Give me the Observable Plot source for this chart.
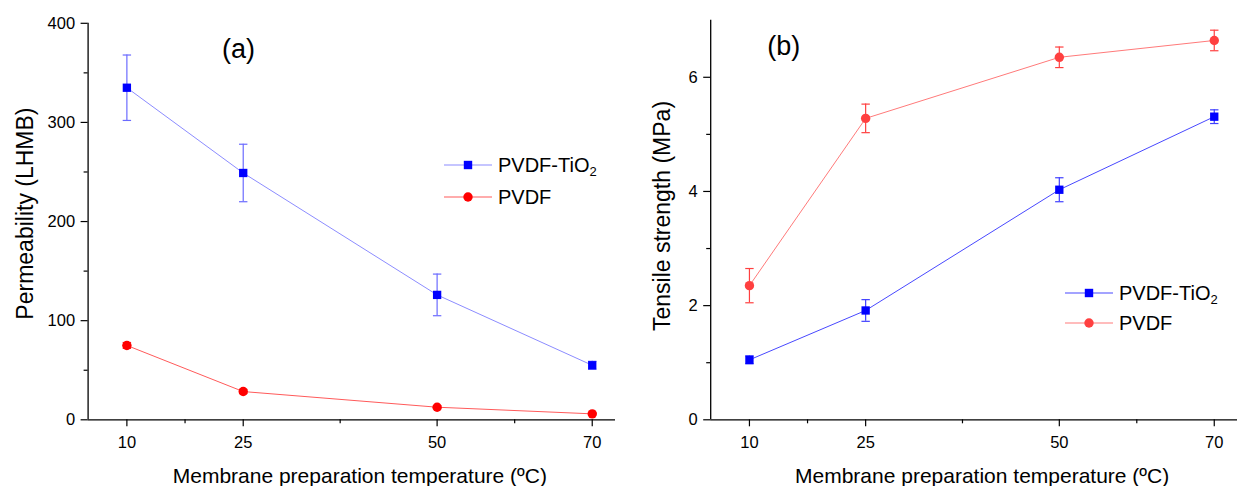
<!DOCTYPE html>
<html>
<head>
<meta charset="utf-8">
<script src="https://cdn.jsdelivr.net/npm/d3@7"></script>
<script src="https://cdn.jsdelivr.net/npm/@observablehq/plot@0.6"></script>
<style>
  html, body { margin: 0; padding: 0; background: #fff; }
  #wrap { position: relative; width: 1244px; height: 486px; display: flex; font-family: "Liberation Sans", Arial, sans-serif; color: #000; overflow: hidden; }
  .lg { position: absolute; height: 24px; display: flex; align-items: center; font-size: 20px; line-height: 24px; white-space: nowrap; }
  .lg svg { display: block; margin-right: 6px; }
  .lg sub { font-size: 13px; vertical-align: -0.3em; line-height: 0; }
</style>
</head>
<body>
<div id="wrap"></div>
<script>
// ---------- data ----------
const temps = [10, 25, 50, 70];
const xMajorTicks = [10, 25, 50, 70];
const xMinorTicks = [17.5, 37.5, 60];
const seriesNames = ["PVDF-TiO2", "PVDF"];

// (a) Permeability (LHMB)
const permTiO2 = [335, 249, 126, 55];
const permTiO2Err = [33, 29, 21, 4];
const permPVDF = [75, 28.5, 12.7, 6];
const permPVDFErr = [3, 2, 1.5, 1];
const permTicks = [0, 100, 200, 300, 400];
const permMinorTicks = [50, 150, 250, 350];

// (b) Tensile strength (MPa)
const tensTiO2 = [1.05, 1.915, 4.03, 5.31];
const tensTiO2Err = [0.07, 0.19, 0.21, 0.12];
const tensPVDF = [2.35, 5.28, 6.35, 6.645];
const tensPVDFErr = [0.3, 0.25, 0.18, 0.18];
const tensTicks = [0, 2, 4, 6];
const tensMinorTicks = [1, 3, 5];

const xTitle = "Membrane preparation temperature (\u00BAC)";

// ---------- helpers ----------
const FONT = '"Liberation Sans", Arial, sans-serif';
const capSymbol = { draw(ctx, size) { ctx.moveTo(-4.2, 0); ctx.lineTo(4.2, 0); } };
const intFmt = d3.format("d");

function rows(vals, errs) {
  return temps.map((t, i) => ({ t, v: vals[i], lo: vals[i] - errs[i], hi: vals[i] + errs[i] }));
}

function seriesMarks(data, s) {
  return [
    Plot.line(data, { x: "t", y: "v", stroke: s.line, strokeWidth: 1 }),
    Plot.ruleX(data, { x: "t", y1: "lo", y2: "hi", stroke: s.err, strokeWidth: 1.2 }),
    Plot.dot(data, { x: "t", y: "lo", symbol: capSymbol, stroke: s.err, strokeWidth: 1.2, fill: "none" }),
    Plot.dot(data, { x: "t", y: "hi", symbol: capSymbol, stroke: s.err, strokeWidth: 1.2, fill: "none" }),
    Plot.dot(data, { x: "t", y: "v", symbol: s.symbol, r: 4.7, fill: s.mark, stroke: "none" })
  ];
}

function panel(cfg) {
  return Plot.plot({
    width: 622,
    height: 486,
    marginLeft: cfg.marginLeft,
    marginRight: 7,
    marginTop: cfg.marginTop,
    marginBottom: 66.7,
    style: { fontFamily: FONT, fontSize: "16px", color: "#000", background: "#fff", overflow: "visible" },
    x: { domain: [5, 73] },
    y: { domain: cfg.yDomain },
    marks: [
      Plot.axisX(xMajorTicks, { tickSize: 7, tickPadding: 9, label: null, strokeWidth: 1.2, fontSize: 16.5, tickFormat: intFmt }),
      Plot.axisX(xMinorTicks, { tickSize: 4, tickFormat: () => "", label: null, strokeWidth: 1.2 }),
      Plot.axisY(cfg.yTicks, { tickSize: 7, tickPadding: 6, label: null, strokeWidth: 1.2, fontSize: 16.5, tickFormat: intFmt }),
      Plot.axisY(cfg.yMinor, { tickSize: 4, tickFormat: () => "", label: null, strokeWidth: 1.2 }),
      Plot.ruleY([cfg.yDomain[0]], { stroke: "#000", strokeWidth: 1.3 }),
      Plot.ruleX([5], { stroke: "#000", strokeWidth: 1.3 }),
      ...cfg.series.flatMap(([data, s]) => seriesMarks(data, s)),
      Plot.text([cfg.tag], { frameAnchor: "top-left", dx: cfg.tagDx, dy: cfg.tagDy, fontSize: 27, textAnchor: "middle", lineAnchor: "middle" }),
      Plot.text([xTitle], { frameAnchor: "bottom", dx: 8, dy: 56.7, fontSize: 21, textAnchor: "middle", lineAnchor: "middle" }),
      Plot.text([cfg.yLabel], { frameAnchor: "left", dx: cfg.yLabelDx, dy: cfg.yLabelDy, rotate: -90, fontSize: 23, textAnchor: "middle", lineAnchor: "middle" })
    ]
  });
}

const styleA = {
  tio2: { line: "#8c8cff", err: "#6b6bff", mark: "#0000ff", symbol: "square" },
  pvdf: { line: "#ff5a5a", err: "#ff3030", mark: "#ff0000", symbol: "circle" }
};
const styleB = {
  tio2: { line: "#4848ff", err: "#4040ff", mark: "#0000ff", symbol: "square" },
  pvdf: { line: "#ff7a7a", err: "#ff4040", mark: "#ff4040", symbol: "circle" }
};

const chartA = panel({
  marginLeft: 87.6, marginTop: 22.8, yDomain: [0, 400], yTicks: permTicks, yMinor: permMinorTicks,
  series: [[rows(permTiO2, permTiO2Err), styleA.tio2], [rows(permPVDF, permPVDFErr), styleA.pvdf]],
  tag: "(a)", tagDx: 150.5, tagDy: 26, yLabel: "Permeability (LHMB)", yLabelDx: -62.6, yLabelDy: -8
});
const chartB = panel({
  marginLeft: 88.2, marginTop: 19.7, yDomain: [0, 7], yTicks: tensTicks, yMinor: tensMinorTicks,
  series: [[rows(tensTiO2, tensTiO2Err), styleB.tio2], [rows(tensPVDF, tensPVDFErr), styleB.pvdf]],
  tag: "(b)", tagDx: 73, tagDy: 26, yLabel: "Tensile strength (MPa)", yLabelDx: -48.5, yLabelDy: -4
});

const wrap = document.getElementById("wrap");
wrap.appendChild(chartA);
wrap.appendChild(chartB);

// ---------- legends ----------
function legendRow(left, top, s, name) {
  const div = document.createElement("div");
  div.className = "lg";
  div.style.left = left + "px";
  div.style.top = (top - 12) + "px";
  const marker = s.symbol === "square"
    ? `<rect x="19.8" y="7.8" width="8.4" height="8.4" fill="${s.mark}"/>`
    : `<circle cx="24" cy="12" r="4.7" fill="${s.mark}"/>`;
  div.innerHTML = `<svg width="48" height="24"><line x1="0" y1="12" x2="48" y2="12" stroke="${s.line}" stroke-width="1.2"/>${marker}</svg>` +
    `<span>${name.replace(/2$/, "<sub>2</sub>")}</span>`;
  wrap.appendChild(div);
}
legendRow(444, 165, styleA.tio2, seriesNames[0]);
legendRow(444, 197.3, styleA.pvdf, seriesNames[1]);
legendRow(1065, 293.3, styleB.tio2, seriesNames[0]);
legendRow(1065, 323.3, styleB.pvdf, seriesNames[1]);
</script>
</body>
</html>
